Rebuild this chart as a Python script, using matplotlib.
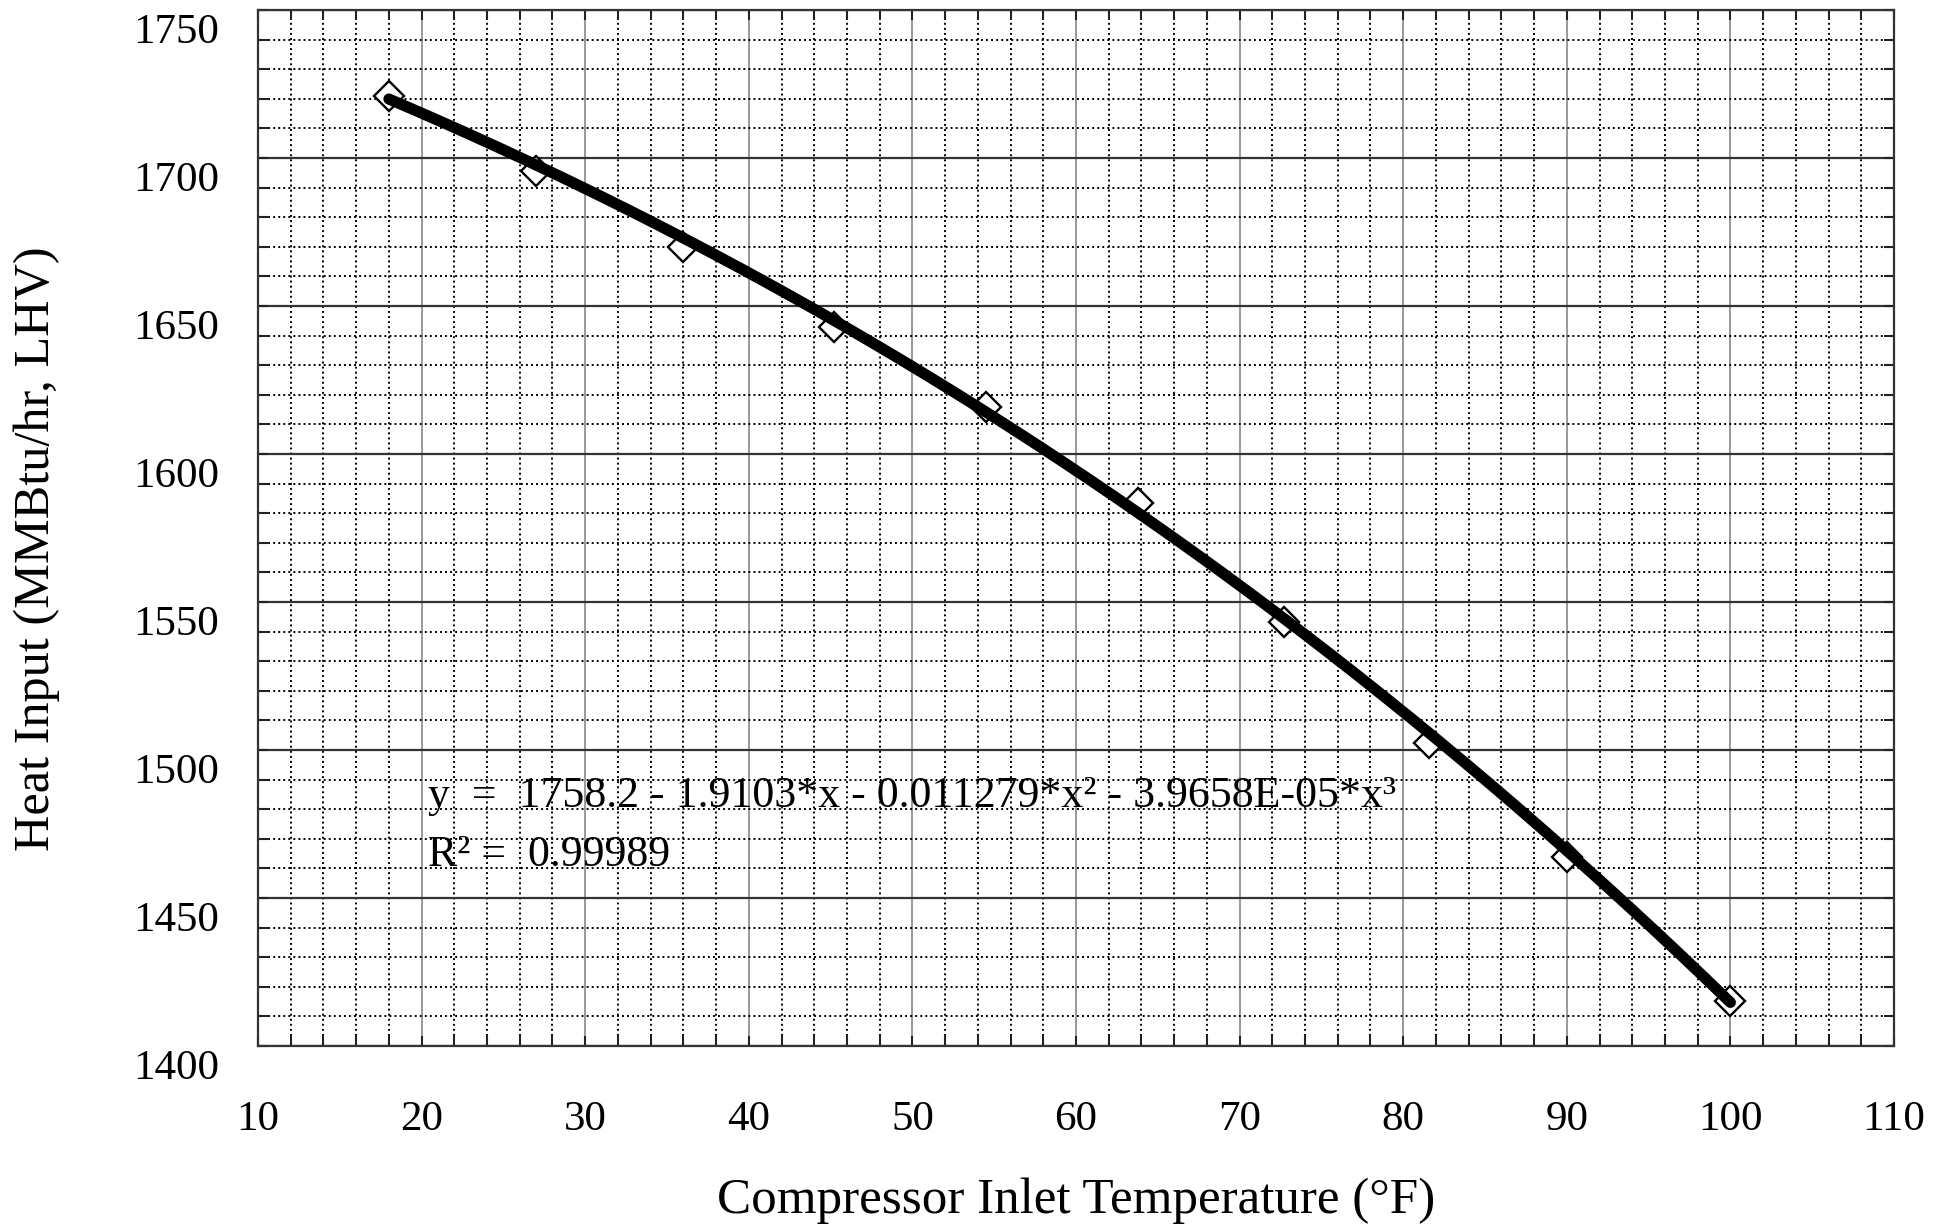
import numpy as np
import matplotlib.pyplot as plt
from matplotlib.ticker import MultipleLocator
from matplotlib.transforms import ScaledTranslation

# measured points
temp_f = [18, 27, 36, 45.2, 54.5, 63.8, 72.7, 81.6, 90, 100]
heat_input = [1720.9, 1695.7, 1669.8, 1643.0, 1616.0, 1583.3, 1543.3, 1502.5, 1463.9, 1415.3]

# cubic trend line: c0 + c1*x + c2*x^2 + c3*x^3
fit_coef = [1758.2, -1.9103, -0.011279, -3.9658e-05]
r_squared = 0.99989

x_ticks = [10, 20, 30, 40, 50, 60, 70, 80, 90, 100, 110]
y_ticks = [1400, 1450, 1500, 1550, 1600, 1650, 1700, 1750]

plt.rcParams["font.family"] = ["Liberation Serif", "DejaVu Serif"]

fig = plt.figure(figsize=(19.46, 12.28), dpi=100)
W, H = 1946, 1228
ax = fig.add_axes([258 / W, 1 - 1046 / H, (1894 - 258) / W, (1046 - 10) / H])

ax.set_xlim(10, 110)
ax.set_ylim(1400, 1750)
ax.set_xticks(x_ticks)
ax.set_yticks(y_ticks)
ax.xaxis.set_minor_locator(MultipleLocator(2))
ax.yaxis.set_minor_locator(MultipleLocator(10))
ax.set_axisbelow(True)

ax.grid(which="minor", linestyle=(0, (1, 1.6)), color="black", linewidth=1.4)
ax.grid(axis="x", which="major", linestyle="-", color="#888888", linewidth=1.2)
ax.grid(axis="y", which="major", linestyle="-", color="#333333", linewidth=1.6)

for s in ax.spines.values():
    s.set_linewidth(1.6)
    s.set_color("#333333")

ax.tick_params(which="both", direction="in", top=True, right=True,
               length=7, width=1.5, color="#222222", labelsize=31)
ax.tick_params(axis="x", pad=39)
ax.tick_params(axis="y", pad=28)

# y labels sit a little below their gridlines
shift = ScaledTranslation(0, -0.18, fig.dpi_scale_trans)
for lbl in ax.get_yticklabels():
    lbl.set_transform(lbl.get_transform() + shift)

xs = np.linspace(min(temp_f), max(temp_f), 300)
trend = np.polynomial.polynomial.polyval(xs, fit_coef)

ax.plot(temp_f, heat_input, linestyle="none", marker="D", markersize=15,
        markerfacecolor="white", markeredgecolor="black", markeredgewidth=1.7, zorder=3)
ax.plot(xs, trend, color="black", linewidth=8, solid_capstyle="round", zorder=4)

eq = ("y  =  1758.2 - 1.9103*x - 0.011279*x\u00b2 - 3.9658E-05*x\u00b3")
ax.text(20.4, 1480.7, eq, fontsize=31.6, va="baseline", ha="left", zorder=5)
ax.text(20.4, 1460.8, "R\u00b2 =  %.5f" % r_squared, fontsize=31.6, va="baseline", ha="left", zorder=5)

ax.set_xlabel("Compressor Inlet Temperature (\u00b0F)", fontsize=36.8)
ax.xaxis.set_label_coords(0.5, (1046 - 1201) / 1036)
ax.xaxis.label.set_va("center")
ax.set_ylabel("Heat Input (MMBtu/hr, LHV)", fontsize=36.2)
ax.yaxis.set_label_coords((37 - 258) / 1636, (1046 - 549) / 1036)
ax.yaxis.label.set_va("center")

fig.savefig("out.png", dpi=100)
plt.close(fig)
